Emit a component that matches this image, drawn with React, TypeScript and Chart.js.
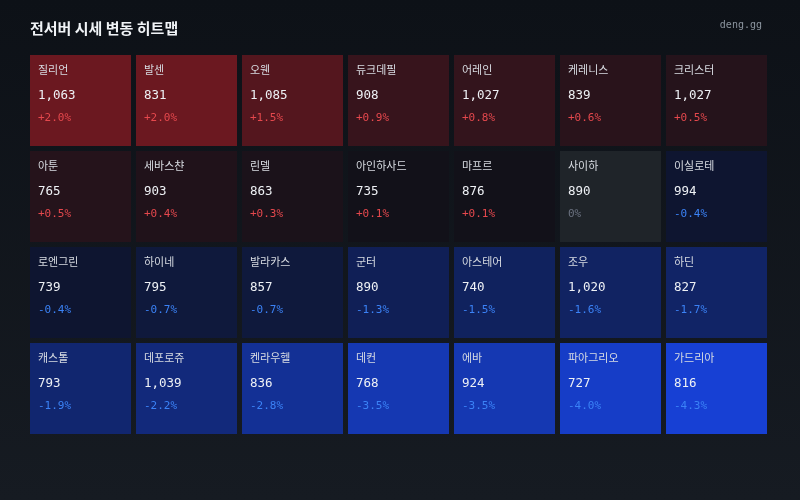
import React, { useEffect, useRef } from "react";
import { Chart, registerables } from "chart.js";

Chart.register(...registerables);

// Grid is read left-to-right, top-to-bottom, 7 servers per row.
const COLS = 7;
const servers = [
  "질리언", "발센", "오웬", "듀크데필", "어레인", "케레니스", "크리스터",
  "아툰", "세바스챤", "린델", "아인하사드", "마프르", "사이하", "이실로테",
  "로엔그린", "하이네", "발라카스", "군터", "아스테어", "조우", "하딘",
  "캐스톨", "데포로쥬", "켄라우헬", "데컨", "에바", "파아그리오", "가드리아",
];
const prices = [
  1063, 831, 1085, 908, 1027, 839, 1027,
  765, 903, 863, 735, 876, 890, 994,
  739, 795, 857, 890, 740, 1020, 827,
  793, 1039, 836, 768, 924, 727, 816,
];
const changes = [
  2.0, 2.0, 1.5, 0.9, 0.8, 0.6, 0.5,
  0.5, 0.4, 0.3, 0.1, 0.1, 0.0, -0.4,
  -0.4, -0.7, -0.7, -1.3, -1.5, -1.6, -1.7,
  -1.9, -2.2, -2.8, -3.5, -3.5, -4.0, -4.3,
];
const title = "전서버 시세 변동 히트맵";
const source = "deng.gg";

function cellColor(p: number): string {
  if (p === 0) return "rgb(31,36,41)";
  if (p > 0) {
    return `rgb(${Math.round(13 + 47 * p)},${Math.round(17 + 3.5 * p)},${Math.round(25 + 3.5 * p)})`;
  }
  const n = -p;
  return `rgb(${Math.round(13 + 2.3 * n)},${Math.round(17 + 11 * n)},${Math.round(31 + 42 * n)})`;
}

function fmtPct(p: number): string {
  if (p === 0) return "0%";
  return (p > 0 ? "+" : "") + p.toFixed(1) + "%";
}

const ROWS = Math.ceil(servers.length / COLS);
const colLabels = Array.from({ length: COLS }, (_, c) => String(c + 1));
const GAP = 2.5;

const labelPlugin = {
  id: "cellLabels",
  afterDatasetsDraw(chart: any) {
    const ctx = chart.ctx as CanvasRenderingContext2D;
    chart.data.datasets.forEach((ds: any, di: number) => {
      const meta = chart.getDatasetMeta(di);
      meta.data.forEach((el: any, i: number) => {
        const idx = ds.srcIndex[i];
        const { x, y, base, width } = el.getProps(["x", "y", "base", "width"], true);
        const left = x - width / 2 + GAP;
        const top = Math.min(y, base) + GAP;
        const tx = left + 8;
        ctx.save();
        ctx.textAlign = "left";
        ctx.textBaseline = "middle";
        ctx.fillStyle = "#d8dce2";
        ctx.font = "11px 'Noto Sans CJK KR'";
        ctx.fillText(servers[idx], tx, top + 14.5);
        ctx.fillStyle = "#eef1f5";
        ctx.font = "12.5px 'DejaVu Sans Mono'";
        ctx.fillText(prices[idx].toLocaleString("en-US"), tx, top + 41);
        const p = changes[idx];
        ctx.fillStyle = p > 0 ? "#e5484d" : p < 0 ? "#3b82f6" : "#6b7280";
        ctx.font = "11px 'DejaVu Sans Mono'";
        ctx.fillText(fmtPct(p), tx, top + 63.5);
        ctx.restore();
      });
    });
  },
};

export default function App() {
  const ref = useRef<HTMLCanvasElement | null>(null);

  useEffect(() => {
    if (!ref.current) return;
    const datasets = [] as any[];
    for (let r = 0; r < ROWS; r++) {
      const data: any[] = [];
      const colors: string[] = [];
      const srcIndex: number[] = [];
      for (let c = 0; c < COLS; c++) {
        const i = r * COLS + c;
        if (i >= servers.length) break;
        data.push([r, r + 1]);
        colors.push(cellColor(changes[i]));
        srcIndex.push(i);
      }
      datasets.push({
        data,
        backgroundColor: colors,
        borderWidth: 0,
        inflateAmount: -GAP,
        grouped: false,
        categoryPercentage: 1,
        barPercentage: 1,
        srcIndex,
      });
    }
    const chart = new Chart(ref.current, {
      type: "bar",
      data: { labels: colLabels, datasets },
      options: {
        animation: false,
        responsive: false,
        layout: { padding: { left: 27.5, top: 52.5, right: 30.5, bottom: 63.5 } },
        scales: {
          x: { type: "category", offset: true, display: false },
          y: { type: "linear", min: 0, max: ROWS, reverse: true, display: false },
        },
        plugins: { legend: { display: false }, tooltip: { enabled: false } },
      },
      plugins: [labelPlugin],
    } as any);
    return () => chart.destroy();
  }, []);

  return (
    <div
      style={{
        position: "fixed",
        left: 0,
        top: 0,
        width: 800,
        height: 500,
        background: "linear-gradient(180deg, #0d1117 0%, #161b22 100%)",
        overflow: "hidden",
      }}
    >
      <canvas ref={ref} width={800} height={500} style={{ position: "absolute", left: 0, top: 0 }} />
      <div
        style={{
          position: "absolute",
          left: 30,
          top: 17,
          height: 22,
          lineHeight: "22px",
          fontFamily: "'Noto Sans CJK KR'",
          fontWeight: 700,
          fontSize: 15,
          color: "#f0f3f6",
          whiteSpace: "nowrap",
        }}
      >
        {title}
      </div>
      <div
        style={{
          position: "absolute",
          right: 38,
          top: 17,
          height: 16,
          lineHeight: "16px",
          fontFamily: "'DejaVu Sans Mono'",
          fontSize: 10,
          color: "#8b949e",
        }}
      >
        {source}
      </div>
    </div>
  );
}
